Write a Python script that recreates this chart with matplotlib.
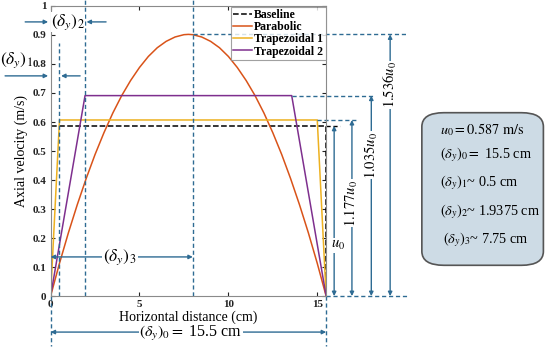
import matplotlib
matplotlib.use('Agg')
import matplotlib.pyplot as plt
from matplotlib.patches import FancyBboxPatch

plt.rcParams['font.family'] = ['Liberation Serif', 'DejaVu Serif']
plt.rcParams['mathtext.fontset'] = 'stix'

# data
u0 = 0.587
width = 15.5
d1 = 0.5
d2 = 1.9375
d3 = 8.0   # where the dashed centre line sits in the picture

base_x = [0, 0, 15.5, 15.5]
base_y = [0, 0.587, 0.587, 0]

para_x = [0, 0.5, 1, 1.5, 2, 2.5, 3, 3.5, 4, 4.5, 5, 5.5, 6, 6.5, 7, 7.5, 7.75,
          8, 8.5, 9, 9.5, 10, 10.5, 11, 11.5, 12, 12.5, 13, 13.5, 14, 14.5, 15, 15.5]
para_y = [0, 0.113, 0.218, 0.315, 0.405, 0.488, 0.563, 0.631, 0.691, 0.743, 0.788,
          0.826, 0.856, 0.878, 0.893, 0.901, 0.902,
          0.901, 0.893, 0.878, 0.856, 0.826, 0.788, 0.743, 0.691, 0.631, 0.563,
          0.488, 0.405, 0.315, 0.218, 0.113, 0]

trap1_x = [0, 0.5, 15.0, 15.5]
trap1_y = [0, 0.607, 0.607, 0]

trap2_x = [0, 1.9375, 13.5625, 15.5]
trap2_y = [0, 0.691, 0.691, 0]

# levels for the right-hand arrows: (top value, arrow x, label, label y)
levels = [0.587, 0.607, 0.691, 0.902]
arrow_x = [15.95, 16.95, 18.04, 19.1]
arrow_lab = [r'$u_0$', r'$1.177u_0$', r'$1.035u_0$', r'$1.536u_0$']
lab_y = [0.175, 0.32, 0.486, 0.728]
# where the horizontal guide lines start / stop
guide_from = [15.5, 15.0, 13.5625, 8.0]
guide_to = [16.29, 17.3, 18.15, 20.1]

box_lines = [r'$u_0 = 0.587\ \mathrm{m/s}$',
             r'$(\delta_y)_0 =$ 15.5 cm',
             r'$(\delta_y)_1$~ 0.5 cm',
             r'$(\delta_y)_2$~ 1.9375 cm',
             r'$(\delta_y)_3$~ 7.75 cm']

blue = '#2e6b93'
dash = (0, (3, 2))

fig = plt.figure(figsize=(5.5, 3.5), dpi=100)
ax = fig.add_axes([0.092, 0.154, 0.501, 0.829])

ax.plot(base_x, base_y, color='k', ls='--', lw=1.1, label='Baseline')
ax.plot(para_x, para_y, color='#D95319', lw=1.1, label='Parabolic')
ax.plot(trap1_x, trap1_y, color='#EDB120', lw=1.1, label='Trapezoidal 1')
ax.plot(trap2_x, trap2_y, color='#7E2F8E', lw=1.1, label='Trapezoidal 2')

ax.set_xlim(0, 15.5)
ax.set_ylim(0, 1)
ax.set_xticks([0, 5, 10, 15])
ax.set_yticks([0, 0.1, 0.2, 0.3, 0.4, 0.5, 0.6, 0.7, 0.8, 0.9, 1])
ax.set_yticklabels(['0', '0.1', '0.2', '0.3', '0.4', '0.5', '0.6', '0.7', '0.8', '0.9', '1'])
ax.tick_params(direction='in', top=True, right=True, length=3, labelsize=8, colors='#222222', pad=3)
for lab in ax.get_xticklabels() + ax.get_yticklabels():
    lab.set_fontweight('bold')
for sp in ax.spines.values():
    sp.set_color('#8a8a8a')
    sp.set_linewidth(0.8)
ax.set_xlabel('Horizontal distance (cm)', fontsize=10, labelpad=1)
ax.set_ylabel('Axial velocity (m/s)', fontsize=10, labelpad=3)

leg = ax.legend(loc='upper right', prop={'weight': 'bold', 'size': 8.5},
                frameon=True, fancybox=False, borderaxespad=0.05, handlelength=1.6,
                handletextpad=0.2, borderpad=0.2, labelspacing=0.02)
leg.get_frame().set_edgecolor('#8a8a8a')
leg.get_frame().set_linewidth(0.8)

# vertical dashed guides
ax.plot([d1, d1], [0, 0.872], color=blue, ls=dash, lw=1, clip_on=False)
ax.plot([d2, d2], [0, 1.02], color=blue, ls=dash, lw=1, clip_on=False)
ax.plot([d3, d3], [0, 1.02], color=blue, ls=dash, lw=1, clip_on=False)
ax.plot([0, 0], [0, -0.172], color=blue, ls=dash, lw=1, clip_on=False)
ax.plot([width, width], [0, -0.172], color=blue, ls=dash, lw=1, clip_on=False)

# horizontal guides to the right
for lv, a, b in zip(levels, guide_from, guide_to):
    c = 'k' if lv == levels[0] else blue
    ax.plot([a, b], [lv, lv], color=c, ls=dash, lw=1, clip_on=False)
ax.plot([width, 20.06], [0, 0], color=blue, ls=dash, lw=1, clip_on=False)

arr = dict(arrowstyle='<|-|>', color=blue, lw=1, mutation_scale=6, shrinkA=0, shrinkB=0)
one = dict(arrowstyle='-|>', color=blue, lw=1, mutation_scale=6, shrinkA=0, shrinkB=0)

for lv, xx, lab, ly in zip(levels, arrow_x, arrow_lab, lab_y):
    ax.annotate('', xy=(xx, lv), xytext=(xx, 0), arrowprops=arr, annotation_clip=False)
    rot = 0 if lab == arrow_lab[0] else 90
    ax.text(xx + (0.2 if rot == 0 else 0), ly, lab, rotation=rot, ha='center', va='center',
            fontsize=10.5, clip_on=False, bbox=dict(fc='white', ec='none', pad=0.3))

# bottom span arrow
ax.annotate('', xy=(0, -0.124), xytext=(width, -0.124), arrowprops=arr, annotation_clip=False)
ax.text(7.9, -0.128, r'$(\delta_y)_0 =$ 15.5 cm', ha='center', va='center', fontsize=11.5,
        clip_on=False, bbox=dict(fc='white', ec='none', pad=0))

# delta_y3 span
ax.annotate('', xy=(0, 0.135), xytext=(d3, 0.135), arrowprops=arr)
ax.text(3.9, 0.135, r'$(\delta_y)_3$', ha='center', va='center', fontsize=12.5,
        bbox=dict(fc='white', ec='none', pad=1))

# delta_y2 arrows at top
ax.annotate('', xy=(-0.14, 0.945), xytext=(-1.43, 0.945), arrowprops=one, annotation_clip=False)
ax.annotate('', xy=(2.02, 0.945), xytext=(3.12, 0.945), arrowprops=one, annotation_clip=False)
ax.text(0.98, 0.945, r'$(\delta_y)_2$', ha='center', va='center', fontsize=12.5, clip_on=False,
        bbox=dict(fc='white', ec='none', pad=0.3))

# delta_y1 arrows
ax.annotate('', xy=(-0.14, 0.759), xytext=(-2.56, 0.759), arrowprops=one, annotation_clip=False)
ax.annotate('', xy=(0.59, 0.759), xytext=(1.66, 0.759), arrowprops=one, annotation_clip=False)
ax.text(-1.94, 0.812, r'$(\delta_y)_1$', ha='center', va='center', fontsize=12.5, clip_on=False)

# info box on the right
box = FancyBboxPatch((0.785, 0.26), 0.185, 0.40, boxstyle='round,pad=0.018,rounding_size=0.04',
                     transform=fig.transFigure, fc='#cddbe5', ec='#555555', lw=1.2)
fig.patches.append(box)
box_y = [0.629, 0.557, 0.477, 0.394, 0.314]
box_x = [0.800, 0.800, 0.800, 0.800, 0.805]
for t, xx, yy in zip(box_lines, box_x, box_y):
    fig.text(xx, yy, t, ha='left', va='center', fontsize=10.3)

fig.savefig('out.png', dpi=100)
